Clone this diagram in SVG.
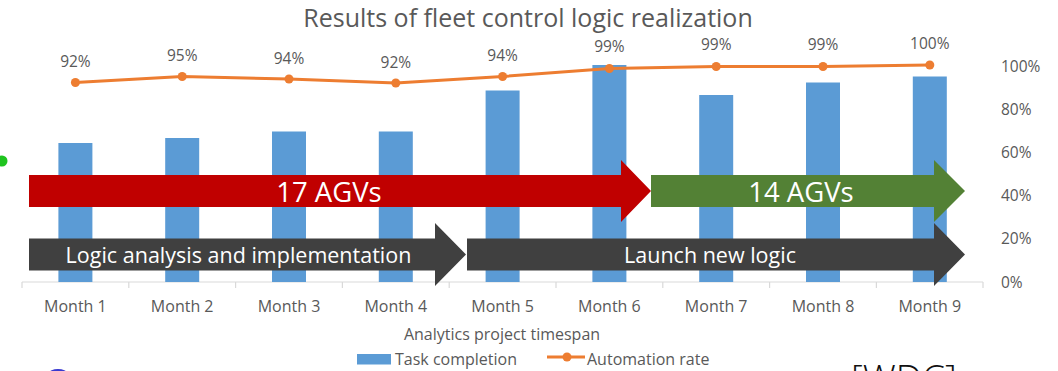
<svg xmlns="http://www.w3.org/2000/svg" width="1058" height="371" viewBox="0 0 1058 371">
<style>
text{font-family:"Open Sans","Noto Sans","Liberation Sans",sans-serif;}
.g{fill:#595959}
.lbl{font-size:15.5px;fill:#595959;text-anchor:middle}
.mon{font-size:16px;fill:#595959;text-anchor:middle}
.ax{font-size:15.5px;fill:#595959}
.bar{fill:#5B9BD5}
.pt{fill:#ED7D31}
.arr{fill:#fff;text-anchor:middle}
.tick{stroke:#d9d9d9;stroke-width:1.2}
</style>
<rect width="1058" height="371" fill="#fff"/>
<circle cx="2" cy="161" r="5.5" fill="#1fc41f"/>
<ellipse cx="58" cy="373" rx="9" ry="4" fill="#3a3ad0"/>
<text x="528" y="27" font-size="25" class="g" text-anchor="middle">Results of fleet control logic realization</text>
<g id="axis">
<line x1="22" y1="282" x2="983" y2="282" class="tick"/>
<path class="tick" d="M22 282V288M128.8 282V288M235.6 282V288M342.4 282V288M449.2 282V288M556 282V288M662.8 282V288M769.6 282V288M876.4 282V288M983 282V288"/>
<text class="ax" x="1001" y="71.5">100%</text>
<text class="ax" x="1001" y="114.5">80%</text>
<text class="ax" x="1001" y="157.5">60%</text>
<text class="ax" x="1001" y="200.5">40%</text>
<text class="ax" x="1001" y="244">20%</text>
<text class="ax" x="1001" y="287.5">0%</text>
<text class="mon" x="75.4" y="312">Month 1</text>
<text class="mon" x="182.2" y="312">Month 2</text>
<text class="mon" x="289" y="312">Month 3</text>
<text class="mon" x="395.8" y="312">Month 4</text>
<text class="mon" x="502.6" y="312">Month 5</text>
<text class="mon" x="609.4" y="312">Month 6</text>
<text class="mon" x="716.2" y="312">Month 7</text>
<text class="mon" x="823" y="312">Month 8</text>
<text class="mon" x="929.8" y="312">Month 9</text>
<text class="mon" x="502" y="340">Analytics project timespan</text>
</g>
<g id="bars">
<rect class="bar" x="58.4" y="143" width="34" height="139"/>
<rect class="bar" x="165.2" y="138" width="34" height="144"/>
<rect class="bar" x="272" y="131.5" width="34" height="150.5"/>
<rect class="bar" x="378.8" y="131.5" width="34" height="150.5"/>
<rect class="bar" x="485.6" y="90.5" width="34" height="191.5"/>
<rect class="bar" x="592.4" y="65" width="34" height="217"/>
<rect class="bar" x="699.2" y="95" width="34" height="187"/>
<rect class="bar" x="806" y="82.5" width="34" height="199.5"/>
<rect class="bar" x="912.8" y="76.5" width="34" height="205.5"/>
</g>
<g id="line">
<polyline fill="none" stroke="#ED7D31" stroke-width="3" stroke-linejoin="round" points="75.4,82.5 182.2,76.5 289,79 395.8,83 502.6,76.5 609.4,68.5 716.2,66.5 823,66.5 929.8,65"/>
<circle class="pt" cx="75.4" cy="82.5" r="4.5"/>
<circle class="pt" cx="182.2" cy="76.5" r="4.5"/>
<circle class="pt" cx="289" cy="79" r="4.5"/>
<circle class="pt" cx="395.8" cy="83" r="4.5"/>
<circle class="pt" cx="502.6" cy="76.5" r="4.5"/>
<circle class="pt" cx="609.4" cy="68.5" r="4.5"/>
<circle class="pt" cx="716.2" cy="66.5" r="4.5"/>
<circle class="pt" cx="823" cy="66.5" r="4.5"/>
<circle class="pt" cx="929.8" cy="65" r="4.5"/>
<text class="lbl" x="75.4" y="67">92%</text>
<text class="lbl" x="182.2" y="61">95%</text>
<text class="lbl" x="289" y="63.5">94%</text>
<text class="lbl" x="395.8" y="67.5">92%</text>
<text class="lbl" x="502.6" y="61">94%</text>
<text class="lbl" x="609.4" y="52">99%</text>
<text class="lbl" x="716.2" y="50">99%</text>
<text class="lbl" x="823" y="50">99%</text>
<text class="lbl" x="929.8" y="48.5">100%</text>
</g>
<g id="arrow-17">
<polygon fill="#C00000" points="29,175 621,175 621,160 651,191 621,222 621,207 29,207"/>
<text class="arr" x="329" y="201.5" font-size="27.5">17 AGVs</text>
</g>
<g id="arrow-14">
<polygon fill="#538135" points="651,175 934,175 934,160 965,191 934,222 934,207 651,207"/>
<text class="arr" x="801" y="201.5" font-size="27.5">14 AGVs</text>
</g>
<g id="arrow-logic">
<polygon fill="#404040" points="29,238.5 435,238.5 435,223 466,254.5 435,286 435,270.5 29,270.5"/>
<text class="arr" x="238.5" y="263" font-size="21.5">Logic analysis and implementation</text>
</g>
<g id="arrow-launch">
<polygon fill="#404040" points="467,238.5 934,238.5 934,223 965,254.5 934,286 934,270.5 467,270.5"/>
<text class="arr" x="710" y="263" font-size="21.5">Launch new logic</text>
</g>
<g id="legend">
<rect class="bar" x="357" y="354" width="34" height="10.5"/>
<text x="395" y="365" font-size="16" class="g">Task completion</text>
<line x1="547" y1="357" x2="585" y2="357" stroke="#ED7D31" stroke-width="3"/>
<circle class="pt" cx="567" cy="357" r="4.5"/>
<text x="587" y="365" font-size="16" class="g">Automation rate</text>
</g>
<text x="851" y="391" font-size="37" fill="#111" font-weight="300">[WDC]</text>
</svg>
